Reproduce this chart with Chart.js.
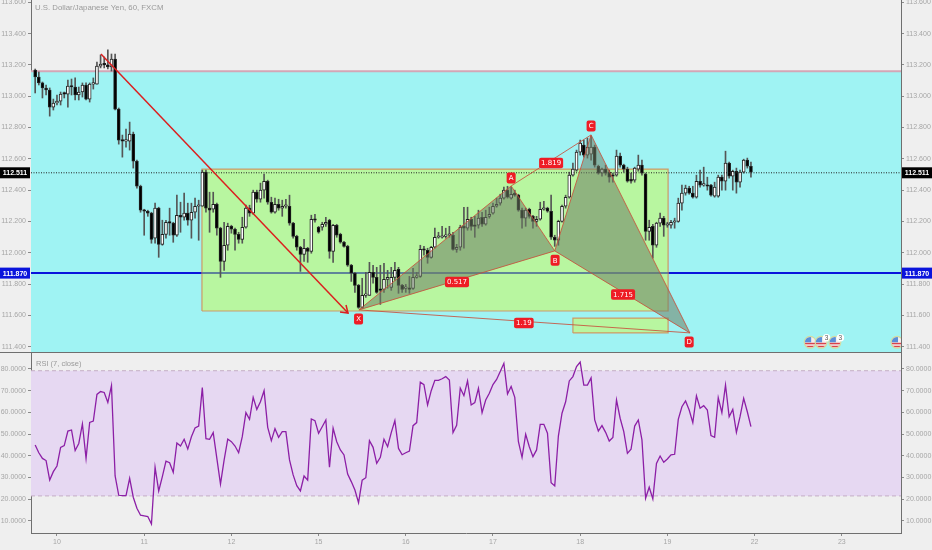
<!DOCTYPE html>
<html>
<head>
<meta charset="utf-8">
<title>USDJPY 60</title>
<script src="https://cdn.jsdelivr.net/npm/chart.js@4"></script>
<style>
  html, body { margin: 0; padding: 0; background: #efefef; overflow: hidden; }
  #wrap { position: relative; width: 932px; height: 550px; }
  canvas { position: absolute; left: 0; display: block; }
  #priceChart { top: 0; }
  #rsiChart { top: 352px; }
  #sep { position: absolute; left: 0; top: 352px; width: 901px; height: 1px; background: #6f6f6f; z-index: 2; }
</style>
</head>
<body>
<div id="wrap">
  <canvas id="priceChart" width="932" height="352"></canvas>
  <canvas id="rsiChart" width="932" height="198"></canvas>
  <div id="sep"></div>
</div>
<script>
const firstBar = -6;
const dayLabels = ["10", "11", "12", "15", "16", "17", "18", "19", "22", "23"];
const barsPerDay = 24;
const xRange = [-7.15, 232.3];
const priceRange = [111.366, 113.615];
const rsiRange = [4.42, 87.83];

const opens = [113.168,113.123,113.085,113.053,113.040,112.931,112.957,112.969,113.021,113.014,
113.065,113.059,113.008,113.027,113.072,112.982,113.078,113.078,113.193,113.206,
113.200,113.187,113.238,112.918,112.720,112.713,112.713,112.758,112.585,112.425,
112.272,112.265,112.253,112.093,112.285,112.054,112.118,112.195,112.189,112.112,
112.240,112.227,112.253,112.208,112.259,112.297,112.297,112.515,112.285,112.278,
112.310,112.157,111.945,112.048,112.169,112.150,112.118,112.086,112.163,112.285,
112.253,112.387,112.342,112.400,112.457,112.323,112.259,112.310,112.285,112.297,
112.297,112.189,112.105,112.035,111.990,112.029,112.009,112.214,112.163,112.163,
112.182,112.208,112.009,112.176,112.118,112.067,112.041,111.920,111.869,111.792,
111.651,111.728,111.728,111.875,111.843,111.766,111.766,111.830,111.779,111.843,
111.894,111.792,111.773,111.773,111.773,111.843,111.849,112.022,112.016,111.971,
112.035,112.099,112.099,112.105,112.112,112.112,112.022,112.035,112.169,112.157,
112.214,112.176,112.176,112.227,112.182,112.233,112.253,112.297,112.317,112.349,
112.400,112.349,112.381,112.368,112.272,112.221,112.278,112.233,112.201,112.214,
112.278,112.285,112.265,112.099,112.080,112.201,112.297,112.355,112.496,112.528,
112.643,112.688,112.624,112.630,112.675,112.553,112.509,112.534,112.515,112.496,
112.496,112.617,112.560,112.534,112.470,112.464,112.534,112.560,112.502,112.137,
112.169,112.048,112.189,112.221,112.176,112.176,112.195,112.201,112.317,112.381,
112.413,112.381,112.355,112.457,112.432,112.432,112.432,112.361,112.361,112.483,
112.457,112.573,112.489,112.521,112.451,112.515,112.592,112.553];

const highs = [113.174,113.155,113.091,113.072,113.053,112.982,113.008,113.027,113.027,113.104,
113.110,113.117,113.059,113.085,113.085,113.085,113.117,113.219,113.264,113.251,
113.296,113.270,113.270,112.925,112.752,112.790,112.835,112.771,112.592,112.432,
112.278,112.272,112.259,112.317,112.291,112.208,112.208,112.285,112.195,112.368,
112.323,112.381,112.317,112.317,112.349,112.336,112.528,112.528,112.387,112.387,
112.317,112.163,112.195,112.189,112.176,112.157,112.131,112.227,112.304,112.304,
112.400,112.400,112.445,112.502,112.464,112.355,112.349,112.342,112.336,112.342,
112.368,112.195,112.112,112.041,112.086,112.035,112.240,112.246,112.169,112.195,
112.227,112.214,112.182,112.182,112.125,112.073,112.048,111.926,111.875,111.798,
111.837,111.875,111.939,111.920,111.907,111.920,111.933,111.888,111.907,111.939,
111.907,111.798,111.798,111.849,111.901,111.875,112.048,112.041,112.029,112.041,
112.157,112.131,112.169,112.157,112.169,112.131,112.054,112.176,112.291,112.291,
112.227,112.233,112.272,112.259,112.272,112.291,112.317,112.349,112.374,112.419,
112.425,112.419,112.400,112.374,112.285,112.285,112.285,112.240,112.233,112.323,
112.329,112.291,112.368,112.112,112.208,112.304,112.368,112.515,112.573,112.656,
112.720,112.720,112.733,112.745,112.688,112.560,112.541,112.560,112.528,112.509,
112.656,112.637,112.566,112.547,112.509,112.547,112.624,112.592,112.509,112.208,
112.182,112.195,112.253,112.233,112.195,112.208,112.221,112.349,112.432,112.432,
112.425,112.425,112.496,112.528,112.547,112.483,112.438,112.451,112.496,112.496,
112.649,112.579,112.528,112.541,112.528,112.598,112.605,112.579];

const lows = [113.021,113.072,112.989,113.008,112.873,112.912,112.944,112.944,112.989,112.931,
113.008,112.976,112.976,112.995,112.976,112.963,113.046,113.078,113.181,113.181,
113.174,113.161,112.912,112.694,112.611,112.675,112.656,112.541,112.413,112.259,
112.112,112.233,112.061,112.061,111.971,112.048,112.093,112.112,112.067,112.105,
112.131,112.208,112.176,112.093,112.221,112.080,112.297,112.259,112.131,112.259,
112.112,111.843,111.888,112.016,112.125,112.016,112.061,112.061,112.157,112.233,
112.246,112.323,112.323,112.349,112.310,112.253,112.253,112.272,112.233,112.285,
112.176,112.093,112.016,111.881,111.945,111.939,111.997,112.195,112.125,112.144,
112.169,111.965,111.939,112.099,112.061,112.035,111.913,111.817,111.747,111.645,
111.645,111.715,111.728,111.805,111.741,111.670,111.747,111.773,111.760,111.824,
111.741,111.747,111.747,111.741,111.766,111.837,111.843,111.984,111.933,111.965,
112.029,112.093,112.093,112.093,112.099,112.016,112.003,112.016,112.029,112.144,
112.144,112.099,112.157,112.169,112.176,112.221,112.246,112.291,112.304,112.342,
112.349,112.342,112.361,112.265,112.157,112.169,112.221,112.157,112.169,112.208,
112.272,112.259,112.086,112.041,112.048,112.195,112.285,112.349,112.489,112.521,
112.624,112.611,112.605,112.592,112.547,112.502,112.489,112.496,112.451,112.451,
112.489,112.547,112.515,112.451,112.445,112.451,112.521,112.496,112.080,112.080,
111.965,112.035,112.169,112.105,112.163,112.157,112.157,112.195,112.272,112.368,
112.374,112.349,112.349,112.419,112.425,112.400,112.361,112.355,112.355,112.400,
112.400,112.477,112.400,112.381,112.419,112.509,112.541,112.483];

const closes = [113.123,113.085,113.053,113.040,112.931,112.957,112.969,113.014,113.014,113.065,
113.059,113.008,113.027,113.072,112.982,113.078,113.085,113.193,113.206,113.200,
113.187,113.238,112.918,112.720,112.713,112.720,112.758,112.585,112.425,112.272,
112.265,112.253,112.086,112.285,112.054,112.118,112.195,112.189,112.112,112.240,
112.227,112.253,112.208,112.259,112.297,112.304,112.515,112.285,112.272,112.310,
112.157,111.945,112.048,112.169,112.150,112.118,112.086,112.163,112.285,112.253,
112.387,112.342,112.400,112.457,112.323,112.259,112.310,112.285,112.297,112.304,
112.189,112.105,112.035,111.990,112.029,112.009,112.214,112.208,112.131,112.182,
112.195,112.009,112.176,112.112,112.067,112.041,111.920,111.869,111.792,111.651,
111.728,111.734,111.875,111.843,111.747,111.760,111.830,111.843,111.843,111.888,
111.792,111.766,111.779,111.766,111.843,111.849,112.022,112.016,111.971,112.035,
112.099,112.105,112.105,112.112,112.118,112.022,112.035,112.163,112.157,112.214,
112.169,112.169,112.221,112.182,112.227,112.246,112.297,112.310,112.349,112.400,
112.355,112.374,112.368,112.272,112.221,112.272,112.233,112.201,112.214,112.278,
112.285,112.265,112.099,112.080,112.201,112.297,112.355,112.496,112.534,112.643,
112.701,112.624,112.675,112.675,112.560,112.509,112.534,112.509,112.483,112.489,
112.617,112.560,112.534,112.457,112.457,112.541,112.560,112.509,112.137,112.163,
112.048,112.189,112.221,112.176,112.182,112.195,112.201,112.317,112.381,112.413,
112.381,112.355,112.457,112.432,112.438,112.425,112.368,112.419,112.483,112.457,
112.573,112.489,112.521,112.451,112.515,112.592,112.553,112.515];

const rsiValues = [45,41.4,38.8,37.8,28.8,32.7,35.3,43.9,44.7,51.4,51.9,42.4,45.7,54.7,38.8,55.4,56,68.3,69.6,69.2,
64.6,72.3,30.7,21.8,21.6,21.6,29.6,20.9,15.8,12.6,12.3,12,8.6,34.7,23.8,30.4,37.5,36.8,32.4,45.9,
44.5,47.6,43.1,48.8,52.8,53.7,71.4,47.9,47.6,50.7,38.8,27,38,47.7,46.5,44.5,41.4,48.8,59.9,56.8,
66.9,61.4,64.9,70,53.1,47,52.5,48.5,51.1,51.1,38.1,31.2,26.2,23.8,30.7,28.8,57,56.2,50.4,53.4,
56.5,34.7,52.7,46.5,42.7,40.4,31.6,28.1,24.2,18.4,28.8,29.9,47,43.9,36.5,39.3,47.6,44.2,50.7,56.2,
43.4,40.5,41.4,42.2,53.9,55.3,73.9,72.8,63.4,70,74.8,74.8,75.5,76.5,74.9,50.7,54,71.2,67.7,74.5,
63.4,64.5,71.1,59.9,65.7,68.8,72.8,75.2,78.8,82.6,68.5,71.9,66.9,46.5,39.3,49.9,44.2,39.6,42.7,54.5,
54.5,50.4,27.6,26.1,49.1,59.6,64.9,74.5,76.5,81.1,83.2,72.6,72.6,75.9,56.5,51.4,53.9,50.8,46.8,48.4,
65.7,57.3,51.1,41.1,43,53.7,56.5,47.3,20.4,25.5,20.1,36.5,39.9,37,38.5,40.4,40.7,56.8,62.6,65.3,
61.1,55.3,67.6,61.9,63.1,61.1,49.3,48.5,66.8,59.9,72.6,58,61.4,50.8,58,66.5,60.3,53.4];

// drawings, [bar, price]
const zoneTop = 113.16;
const lastPrice = 112.511;
const supportPrice = 111.870;
const boxX = [39.9, 168.2];
const boxY = [111.628, 112.535];
const smallBoxX = [142, 168.2];
const smallBoxY = [111.488, 111.583];
const arrowLine = [[12.1, 113.27], [80.1, 111.615]];
const arrowHead = [[77.9, 111.622], [80.1, 111.615], [79.55, 111.666]];
const pointX = [83.1, 111.635];
const pointA = [125, 112.427];
const pointB = [137, 112.012];
const pointC = [147, 112.753];
const pointD = [174.2, 111.488];
const patternLabels = [
  ["X", 83.0, 111.577], ["A", 125, 112.477], ["B", 137.1, 111.952], ["C", 147, 112.810], ["D", 174, 111.430],
  ["1.819", 136, 112.573], ["0.517", 110.1, 111.813], ["1.715", 155.8, 111.734], ["1.19", 128.5, 111.551]
];
const eventBars = [207.3, 210.3, 214.1, 231.2];
const eventCounts = [0, 3, 3, 0];
const eventPrice = 111.428;
const rsiBand = [21.5, 79.2];

const axisFont = { family: "'Liberation Sans', Arial, sans-serif", size: 7 };
const axisGray = "#a6a6a6";
const patternLine = "rgba(200,80,60,0.85)";
const patternFill = "rgba(110,125,100,0.55)";
const boxLine = "rgba(214,130,80,0.8)";
const boxFill = "rgba(195,247,124,0.7)";

function toPoints(list) { return list.map(p => ({ x: p[0], y: p[1] })); }
function rectPoints(xs, ys) {
  return [{ x: xs[0], y: ys[0] }, { x: xs[1], y: ys[0] }, { x: xs[1], y: ys[1] }, { x: xs[0], y: ys[1] }, { x: xs[0], y: ys[0] }];
}
function lineSet(data, color, width, order, extra) {
  return Object.assign({ type: "line", data: data, borderColor: color, borderWidth: width, pointRadius: 0, tension: 0, fill: false, order: order }, extra || {});
}
function hLine(v, xs) { const r = xs || xRange; return [{ x: r[0], y: v }, { x: r[1], y: v }]; }

const bars = opens.map((o, i) => firstBar + i);

// fixed size axes so both panes line up, no room kept for half labels
function noPadding(s) { s.paddingTop = 0; s.paddingBottom = 0; s.paddingLeft = 0; s.paddingRight = 0; }
function yAxis(position, range, step, digits) {
  return {
    position: position,
    min: range[0], max: range[1],
    afterFit: s => { s.width = 31; noPadding(s); },
    border: { display: true, color: "#6f6f6f" },
    grid: { drawOnChartArea: false, drawTicks: true, tickLength: 3, tickColor: "#8a8a8a" },
    ticks: { stepSize: step, includeBounds: false, padding: 2, color: axisGray, font: axisFont, callback: v => v.toFixed(digits) }
  };
}

// tags on the axes, red labels, flags and small titles
const drawingsPlugin = {
  id: "drawings",
  afterDraw(chart) {
    const ctx = chart.ctx, x = chart.scales.x, y = chart.scales.y;
    ctx.save();
    ctx.textBaseline = "middle";
    ctx.textAlign = "left";
    ctx.fillStyle = "#9a9a9a";
    ctx.font = "7.8px 'Liberation Sans', Arial, sans-serif";
    ctx.fillText("U.S. Dollar/Japanese Yen, 60, FXCM", 35, 8);

    eventBars.forEach((b, i) => {
      const px = x.getPixelForValue(b), py = y.getPixelForValue(eventPrice);
      ctx.save();
      ctx.beginPath();
      ctx.rect(chart.chartArea.left, 0, chart.chartArea.width, 351);
      ctx.clip();
      ctx.beginPath();
      ctx.arc(px, py, 6.5, 0, Math.PI * 2);
      ctx.fillStyle = "#d3dca0";
      ctx.fill();
      ctx.beginPath();
      ctx.arc(px, py, 5.3, 0, Math.PI * 2);
      ctx.clip();
      ctx.fillStyle = "#f4eeee";
      ctx.fillRect(px - 6, py - 6, 12, 12);
      ctx.fillStyle = "#d9434b";
      ctx.fillRect(px - 6, py + 0.5, 12, 1.5);
      ctx.fillRect(px - 6, py + 3.5, 12, 1.5);
      ctx.fillStyle = "#5a8fd8";
      ctx.fillRect(px - 6, py - 6, 7, 6);
      ctx.restore();
      if (eventCounts[i]) {
        ctx.beginPath();
        ctx.arc(px + 5.5, py - 4.5, 3.8, 0, Math.PI * 2);
        ctx.fillStyle = "#fff";
        ctx.fill();
        ctx.fillStyle = "#555";
        ctx.textAlign = "center";
        ctx.font = "6.5px 'Liberation Sans', Arial, sans-serif";
        ctx.fillText(String(eventCounts[i]), px + 5.5, py - 4.5);
      }
    });

    ctx.textAlign = "center";
    patternLabels.forEach(l => {
      const px = x.getPixelForValue(l[1]), py = y.getPixelForValue(l[2]);
      ctx.font = "7px 'DejaVu Sans', sans-serif";
      const single = l[0].length === 1;
      const w = single ? 9 : ctx.measureText(l[0]).width + 4;
      const h = single ? 11 : 10.5;
      ctx.fillStyle = "#ee1c25";
      ctx.beginPath();
      ctx.roundRect(px - w / 2, py - h / 2, w, h, 2);
      ctx.fill();
      ctx.fillStyle = "#fff";
      ctx.fillText(l[0], px, py + 0.5);
    });

    [[lastPrice, "#000000"], [supportPrice, "#0a14dc"]].forEach(t => {
      const py = y.getPixelForValue(t[0]);
      [[0, 30], [902, 30]].forEach(b => {
        ctx.fillStyle = t[1];
        ctx.fillRect(b[0], py - 5.5, b[1], 11);
        ctx.fillStyle = "#fff";
        ctx.font = "bold 7px 'Liberation Sans', Arial, sans-serif";
        ctx.fillText(t[0].toFixed(3), b[0] + b[1] / 2, py + 0.5);
      });
    });
    ctx.restore();
  }
};

const rsiTitlePlugin = {
  id: "rsiTitle",
  afterDraw(chart) {
    const ctx = chart.ctx;
    ctx.save();
    ctx.fillStyle = "#9a9a9a";
    ctx.textBaseline = "middle";
    ctx.font = "7.5px 'Liberation Sans', Arial, sans-serif";
    ctx.fillText("RSI (7, close)", 36, 12);
    ctx.restore();
  }
};

new Chart(document.getElementById("priceChart"), {
  type: "bar",
  data: {
    datasets: [
      lineSet(rectPoints(xRange, [priceRange[0], zoneTop]), "rgba(0,0,0,0)", 0, 100, { fill: "shape", backgroundColor: "#9ff3f3" }),
      lineSet(hLine(zoneTop), "#d3a6b6", 2, 99),
      lineSet(hLine(supportPrice), "#0a14dc", 2, 90),
      lineSet(rectPoints(boxX, boxY), boxLine, 1.2, 80, { fill: "shape", backgroundColor: boxFill }),
      lineSet(rectPoints(smallBoxX, smallBoxY), boxLine, 1.2, 79, { fill: "shape", backgroundColor: boxFill }),
      lineSet(hLine(supportPrice, boxX), "#50759a", 1.5, 70),
      { type: "bar", data: bars.map((b, i) => ({ x: b, y: [lows[i], highs[i]] })), backgroundColor: "#555555", barThickness: 1, grouped: false, order: 50 },
      { type: "bar", data: bars.map((b, i) => ({ x: b, y: [opens[i], closes[i]] })),
        backgroundColor: c => (closes[c.dataIndex] >= opens[c.dataIndex] ? "#ffffff" : "#000000"),
        borderColor: "#222222", borderWidth: 1, borderSkipped: false, barThickness: 3, minBarLength: 1.5, grouped: false, order: 40 },
      lineSet(hLine(lastPrice), "#222222", 1, 30, { borderDash: [1, 1.5] }),
      lineSet(toPoints([pointX, pointA, pointB, pointX]), patternLine, 1, 20, { fill: "shape", backgroundColor: patternFill }),
      lineSet(toPoints([pointB, pointC, pointD, pointB]), patternLine, 1, 19, { fill: "shape", backgroundColor: patternFill }),
      lineSet(toPoints([pointA, pointC]), patternLine, 1, 18),
      lineSet(toPoints([pointX, pointD]), patternLine, 1, 18),
      lineSet(toPoints(arrowLine), "#dc1f1f", 1.5, 10),
      lineSet(toPoints(arrowHead), "#dc1f1f", 1.5, 10)
    ]
  },
  options: {
    responsive: false,
    animation: false,
    events: [],
    layout: { padding: 0 },
    plugins: { legend: { display: false }, tooltip: { enabled: false } },
    scales: {
      x: { type: "linear", display: false, offset: false, min: xRange[0], max: xRange[1], grid: { display: false } },
      y: yAxis("left", priceRange, 0.2, 3),
      yR: yAxis("right", priceRange, 0.2, 3)
    }
  },
  plugins: [drawingsPlugin]
});

new Chart(document.getElementById("rsiChart"), {
  type: "line",
  data: {
    datasets: [
      lineSet(rectPoints(xRange, rsiBand), "rgba(0,0,0,0)", 0, 10, { fill: "shape", backgroundColor: "#e6d8f2" }),
      lineSet(hLine(rsiBand[1]), "#c4aec4", 1, 9, { borderDash: [4, 3] }),
      lineSet(hLine(rsiBand[0]), "#c4aec4", 1, 9, { borderDash: [4, 3] }),
      lineSet(rsiValues.map((v, i) => ({ x: bars[i], y: v })), "#8c1fa6", 1.3, 1)
    ]
  },
  options: {
    responsive: false,
    animation: false,
    events: [],
    layout: { padding: 0 },
    plugins: { legend: { display: false }, tooltip: { enabled: false } },
    scales: {
      x: {
        type: "linear", position: "bottom", min: xRange[0], max: xRange[1],
        afterFit: s => { s.height = 17; noPadding(s); },
        afterBuildTicks: s => { s.ticks = dayLabels.map((d, i) => ({ value: i * barsPerDay })); },
        border: { display: true, color: "#6f6f6f" },
        grid: { drawOnChartArea: false, drawTicks: true, tickLength: 3, tickColor: "#8a8a8a" },
        ticks: {
          autoSkip: false, maxRotation: 0, padding: 2, color: axisGray, font: axisFont,
          callback: (v, i) => dayLabels[i]
        }
      },
      y: yAxis("left", rsiRange, 10, 4),
      yR: yAxis("right", rsiRange, 10, 4)
    }
  },
  plugins: [rsiTitlePlugin]
});
</script>
</body>
</html>
